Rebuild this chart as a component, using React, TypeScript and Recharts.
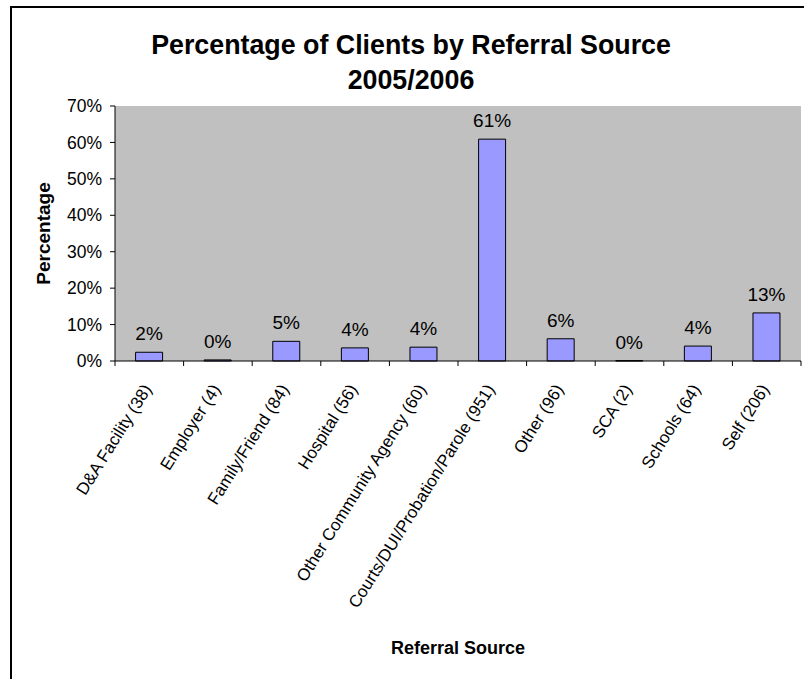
import { Bar, BarChart, CartesianGrid, LabelList, XAxis, YAxis } from "recharts";

const categories = [
  "D&A Facility (38)",
  "Employer (4)",
  "Family/Friend (84)",
  "Hospital (56)",
  "Other Community Agency (60)",
  "Courts/DUI/Probation/Parole (951)",
  "Other (96)",
  "SCA (2)",
  "Schools (64)",
  "Self (206)",
];
const percentages = [2.4, 0.3, 5.4, 3.6, 3.8, 60.9, 6.1, 0.1, 4.1, 13.2];
const yTicks = [0, 10, 20, 30, 40, 50, 60, 70];

const data = categories.map((name, i) => ({ name, value: percentages[i] }));

const FONT = "'Liberation Sans', Arial, sans-serif";
const W = 804;
const H = 679;
const PLOT_LEFT = 115;
const PLOT_RIGHT = 801;
const BAND = (PLOT_RIGHT - PLOT_LEFT) / categories.length;

function XTick(props: any) {
  const { x, y, payload, index } = props;
  const half = payload.offset || BAND / 2;
  const tx = x + 3;
  const ty = y + 28;
  return (
    <g>
      <line x1={x - half} x2={x - half} y1={y} y2={y + 5} stroke="#000" />
      {index === categories.length - 1 && <line x1={x + half} x2={x + half} y1={y} y2={y + 5} stroke="#000" />}
      <text x={tx} y={ty} transform={`rotate(-58, ${tx}, ${ty})`} textAnchor="end" fontSize={17} fontFamily={FONT} fill="#000">
        {payload.value}
      </text>
    </g>
  );
}

function YTitle(props: any) {
  const { viewBox } = props;
  const cx = viewBox.x - 12;
  const cy = viewBox.y + viewBox.height / 2;
  return (
    <text x={cx} y={cy} transform={`rotate(-90, ${cx}, ${cy})`} textAnchor="middle" dominantBaseline="central" fontSize={19} fontWeight="bold" fontFamily={FONT} fill="#000">
      Percentage
    </text>
  );
}

function XTitle(props: any) {
  const { viewBox } = props;
  return (
    <text x={viewBox.x + viewBox.width / 2} y={654} textAnchor="middle" fontSize={18} fontWeight="bold" fontFamily={FONT} fill="#000">
      Referral Source
    </text>
  );
}

export default function App() {
  return (
    <div style={{ position: "fixed", left: 0, top: 0, width: W, height: H, overflow: "hidden", background: "#fff" }}>
      <div style={{ position: "absolute", left: 10, top: 6, width: 900, height: 900, borderLeft: "2px solid #000", borderTop: "2px solid #000" }} />
      <div
        style={{
          position: "absolute",
          left: 11,
          top: 28,
          width: 800,
          textAlign: "center",
          fontFamily: FONT,
          fontWeight: "bold",
          fontSize: 26.8,
          lineHeight: "35px",
          color: "#000",
        }}
      >
        <div>Percentage of Clients by Referral Source</div>
        <div>2005/2006</div>
      </div>
      <div style={{ position: "absolute", left: 0, top: 0 }}>
        <BarChart width={W} height={H} data={data} margin={{ top: 106, right: 3, left: 55, bottom: 0 }} barCategoryGap="30%">
          <CartesianGrid fill="#C0C0C0" fillOpacity={1} horizontal={false} vertical={false} />
          <XAxis
            dataKey="name"
            interval={0}
            height={318}
            tickSize={0}
            tickMargin={0}
            tickLine={false}
            axisLine={{ stroke: "#000" }}
            tick={<XTick />}
            label={{ value: "Referral Source", content: <XTitle /> }}
          />
          <XAxis xAxisId="top" orientation="top" dataKey="name" height={0} tick={false} tickLine={false} axisLine={{ stroke: "#808080" }} />
          <YAxis
            domain={[0, 70]}
            ticks={yTicks}
            width={60}
            tickSize={5}
            tickMargin={8}
            axisLine={{ stroke: "#000" }}
            tickLine={{ stroke: "#000" }}
            tick={{ fill: "#000", fontSize: 17.5, fontFamily: FONT }}
            tickFormatter={(v: number) => `${v}%`}
            label={{ value: "Percentage", content: <YTitle /> }}
          />
          <YAxis yAxisId="right" orientation="right" domain={[0, 70]} width={0} tick={false} tickLine={false} axisLine={{ stroke: "#808080" }} />
          <Bar dataKey="value" fill="#9999FF" stroke="#000" strokeWidth={1} isAnimationActive={false}>
            <LabelList
              dataKey="value"
              position="top"
              offset={12}
              formatter={(v: any) => `${Math.round(Number(v))}%`}
              style={{ fill: "#000", fontSize: 19, fontFamily: FONT }}
            />
          </Bar>
        </BarChart>
      </div>
    </div>
  );
}
